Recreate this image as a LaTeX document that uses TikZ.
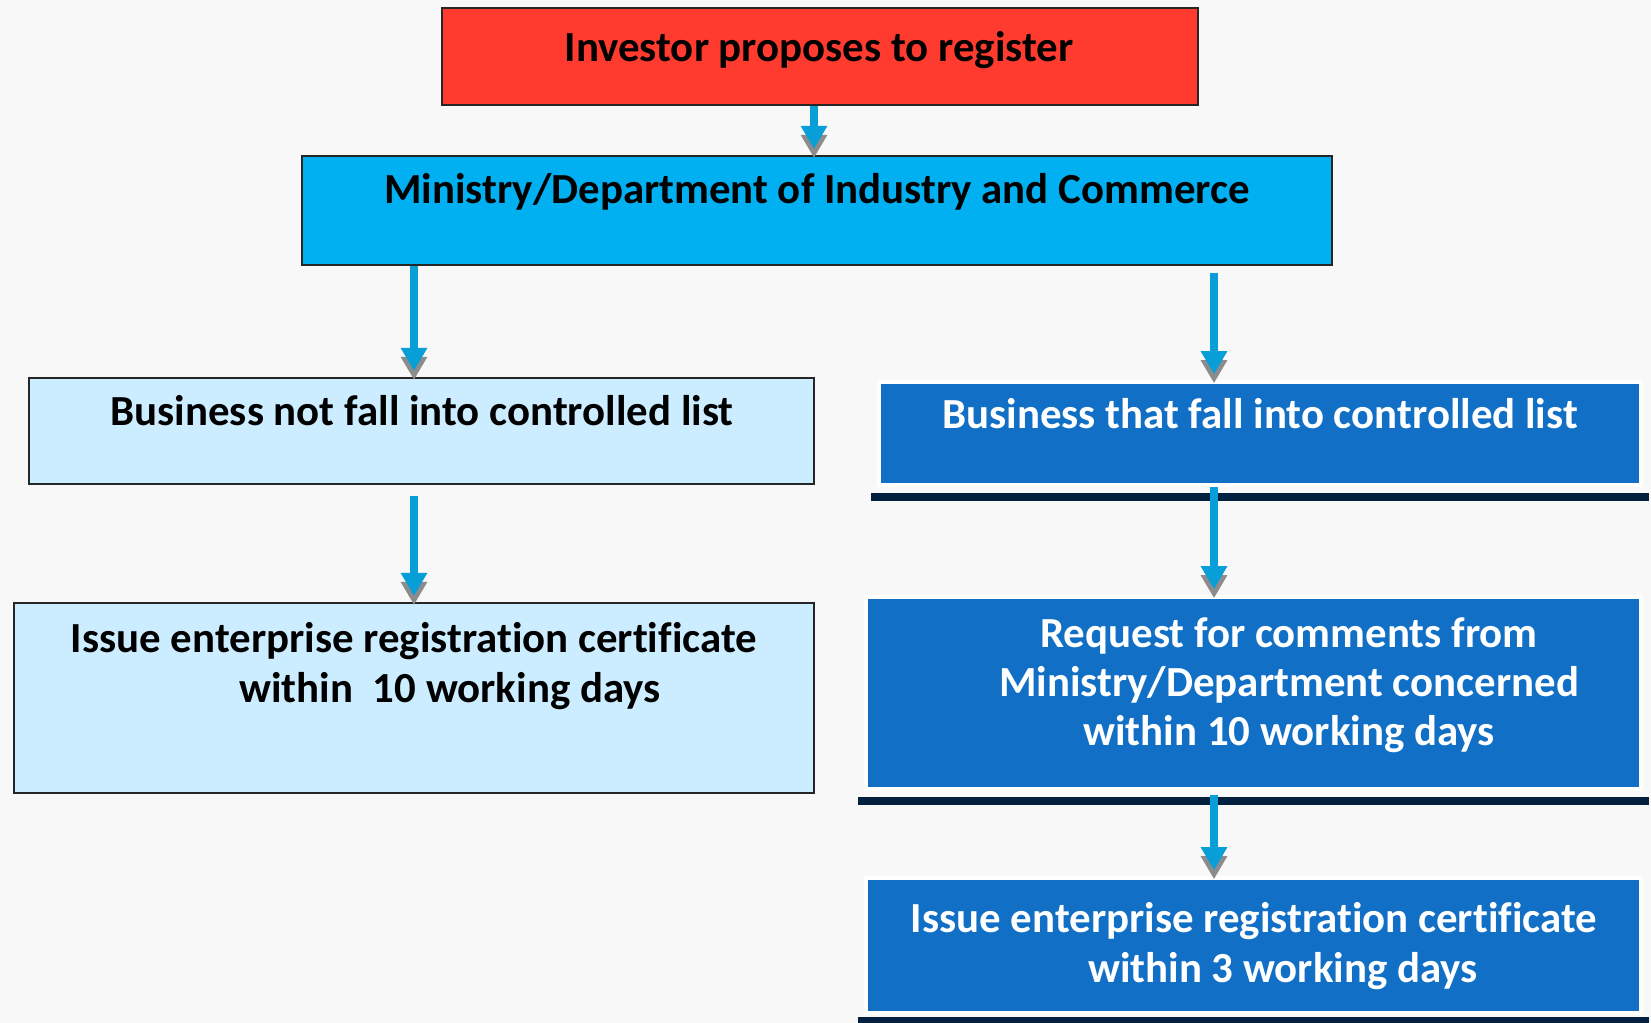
\documentclass[tikz,border=0pt]{standalone}
\usepackage{fontspec}
\setmainfont{Carlito}[Ligatures=NoCommon]
\usetikzlibrary{arrows.meta}

\definecolor{invred}{HTML}{FF3B2F}
\definecolor{mincyan}{HTML}{00B0F0}
\definecolor{paleblue}{HTML}{CCECFF}
\definecolor{deepblue}{HTML}{1170C6}
\definecolor{barnavy}{HTML}{03203F}
\definecolor{flowblue}{HTML}{089FD9}
\definecolor{paper}{HTML}{F8F8F8}

\begin{document}
\begin{tikzpicture}[
    box/.style={draw=black!85, line width=0.6pt, fill=#1, inner sep=0pt},
    darkbox/.style={draw=white, line width=1pt, fill=deepblue, inner sep=0pt},
    caption/.style={font=\bfseries\fontsize{12.2}{14}\selectfont,
        align=center, inner sep=0pt},
    flow/.style={line width=0.75mm, flowblue,
        -{Triangle[width=2.5mm, length=2.3mm]}},
    flowshade/.style={line width=0.75mm, black!45,
        -{Triangle[width=2.5mm, length=2.3mm]},
        transform canvas={yshift=-0.9mm}},
    bar/.style={barnavy, line width=0.8mm},
]

% === Page ===
\useasboundingbox (0,0) rectangle (16.51,-10.23);
\fill[paper] (0,0) rectangle (16.51,-10.23);

% === Arrow columns ===
\coordinate (colL) at (4.14,0);
\coordinate (colM) at (8.14,0);
\coordinate (colR) at (12.14,0);

% === Top of the flow ===
\node[box=invred, minimum width=7.56cm, minimum height=0.97cm]
    (inv) at (8.20,-0.565) {};
\node[caption] (invtxt) at (8.19,-0.50) {Investor proposes to register};

\node[box=mincyan, minimum width=10.30cm, minimum height=1.09cm]
    (min) at (8.17,-2.105) {};
\node[caption] (mintxt) at (8.17,-1.92)
    {Ministry/Department of Industry and Commerce};

% === Left branch ===
\node[box=paleblue, minimum width=7.85cm, minimum height=1.06cm]
    (nofall) at (4.215,-4.31) {};
\node[caption] (nofalltxt) at (4.22,-4.11)
    {Business not fall into controlled list};

\node[box=paleblue, minimum width=8.00cm, minimum height=1.90cm]
    (issueA) at (4.14,-6.98) {};
\node[caption] (issueAtxt) at (4.14,-6.66)
    {Issue enterprise registration certificate\\
     \hspace*{0.72cm}within\ \ 10 working days};

% === Right branch ===
\node[darkbox, minimum width=7.62cm, minimum height=1.03cm]
    (fall) at (12.60,-4.335) {};
\node[caption, text=white] (falltxt) at (12.60,-4.14)
    {Business that fall into controlled list};
\draw[bar] (8.71,-4.97) -- (16.49,-4.97);

\node[darkbox, minimum width=7.75cm, minimum height=1.92cm]
    (request) at (12.535,-6.93) {};
\node[caption, text=white] (requesttxt) at (12.89,-6.85)
    {Request for comments from\\
     Ministry/Department concerned\\
     within 10 working days};
\draw[bar] (8.58,-8.01) -- (16.49,-8.01);

\node[darkbox, minimum width=7.75cm, minimum height=1.35cm]
    (issueB) at (12.535,-9.455) {};
\node[caption, text=white] (issueBtxt) at (12.54,-9.46)
    {Issue enterprise registration certificate\\
     \hspace*{0.58cm}within 3 working days};
\draw[bar] (8.58,-10.21) -- (16.49,-10.21);

% === Arrows (shadow first, then the blue one) ===
\foreach \src/\dst/\col/\gap in {inv/min/colM/0, min/nofall/colL/0,
        min/fall/colR/0.7, nofall/issueA/colL/1.1, fall/request/colR/0,
        request/issueB/colR/0.4} {
    \draw[flowshade] ([yshift=-\gap mm]\src.south -| \col)
        -- ([yshift=0.6mm]\dst.north -| \col);
    \draw[flow] ([yshift=-\gap mm]\src.south -| \col)
        -- ([yshift=0.6mm]\dst.north -| \col);
}

\end{tikzpicture}
\end{document}
